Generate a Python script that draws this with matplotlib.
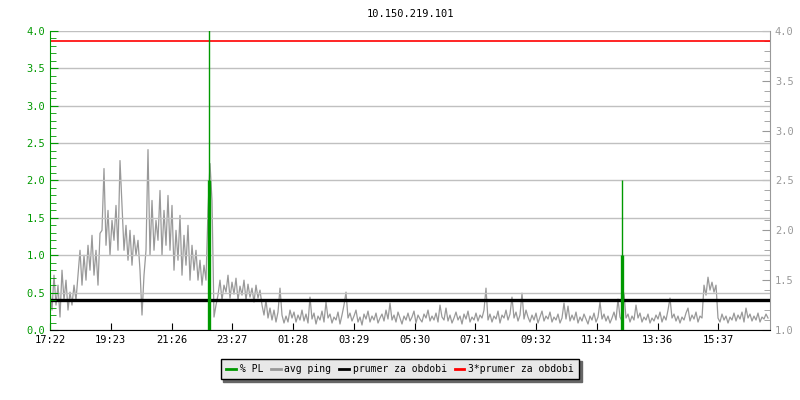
import numpy as np
import matplotlib.pyplot as plt
from matplotlib.ticker import MultipleLocator

title = "10.150.219.101"
tick_labels = ["17:22", "19:23", "21:26", "23:27", "01:28", "03:29",
               "05:30", "07:31", "09:32", "11:34", "13:36", "15:37"]
tick_step = 121.5      # minutes between labelled ticks
span = 1440            # minutes shown
step = 4               # minutes between ping samples

# avg ping (right axis)
ping = [1.4, 1.2, 1.55, 1.25, 1.45, 1.13, 1.6, 1.3, 1.5, 1.2, 1.38, 1.25, 1.45, 1.3,
        1.55, 1.8, 1.45, 1.75, 1.5, 1.85, 1.6, 1.95, 1.55, 1.8, 1.45, 1.97,
        2.0, 2.62, 1.85, 2.2, 1.75, 2.1, 1.9, 2.25, 1.8, 2.7,
        2.25, 1.8, 2.05, 1.7, 2.0, 1.65, 1.95, 1.75, 1.9, 1.6, 1.15, 1.55, 1.8,
        2.81, 1.75, 2.3, 1.8, 2.1, 1.9, 2.4, 1.75, 2.2, 1.85, 2.35, 1.8,
        2.25, 1.6, 2.0, 1.7, 2.15, 1.55, 1.95, 1.65, 2.05, 1.5, 1.85, 1.6,
        1.8, 1.5, 1.7, 1.45, 1.65, 1.5,
        2.2, 2.67, 2.3, 1.13, 1.25,
        1.35, 1.5, 1.3, 1.45, 1.38, 1.55, 1.32, 1.48, 1.36, 1.52, 1.3, 1.44,
        1.35, 1.5, 1.3, 1.46, 1.33, 1.42, 1.28, 1.45, 1.32, 1.4,
        1.25, 1.15, 1.3, 1.12, 1.22, 1.1, 1.2, 1.08, 1.18, 1.42, 1.15, 1.07,
        1.14, 1.08, 1.2,
        1.12, 1.18, 1.08, 1.15, 1.1, 1.2, 1.09, 1.16, 1.07, 1.33,
        1.11, 1.17, 1.06, 1.14, 1.1, 1.19, 1.08, 1.28, 1.12, 1.16,
        1.07, 1.13, 1.1, 1.18, 1.06, 1.15, 1.25, 1.38, 1.12, 1.17,
        1.09, 1.14, 1.2, 1.08, 1.13, 1.05, 1.16, 1.11, 1.19, 1.08,
        1.14, 1.1, 1.17, 1.07, 1.12, 1.16, 1.09, 1.2, 1.11, 1.27,
        1.1, 1.15, 1.08, 1.18, 1.12, 1.06, 1.14, 1.1, 1.17, 1.09,
        1.13, 1.19, 1.07, 1.15, 1.11, 1.08, 1.16, 1.12, 1.2, 1.09,
        1.14, 1.1, 1.17, 1.08, 1.25, 1.13, 1.1, 1.22, 1.09, 1.15,
        1.07, 1.12, 1.18, 1.1, 1.14, 1.06, 1.16, 1.11, 1.19, 1.08,
        1.13, 1.1, 1.17, 1.09, 1.15, 1.12, 1.2, 1.42, 1.1, 1.16,
        1.08, 1.14, 1.11, 1.19, 1.07, 1.15, 1.12, 1.2, 1.1, 1.16,
        1.33, 1.12, 1.18, 1.09, 1.15, 1.37, 1.11, 1.2, 1.13, 1.08,
        1.15, 1.1, 1.17, 1.07, 1.13, 1.19, 1.09, 1.14, 1.11, 1.18,
        1.08, 1.13, 1.1, 1.16, 1.07, 1.12, 1.27, 1.11, 1.24, 1.09,
        1.15, 1.1, 1.18, 1.07, 1.13, 1.09, 1.16, 1.11, 1.06, 1.14,
        1.1, 1.17, 1.08, 1.13, 1.28, 1.11, 1.16, 1.09, 1.14, 1.07,
        1.12, 1.18, 1.1, 1.31, 1.13, 1.09, 1.37, 1.12, 1.16, 1.08,
        1.14, 1.1, 1.25, 1.12, 1.17, 1.08, 1.13, 1.1, 1.16, 1.07,
        1.12, 1.09, 1.15, 1.11, 1.18, 1.08, 1.14, 1.1, 1.2, 1.32,
        1.12, 1.16, 1.09, 1.14, 1.07, 1.13, 1.1, 1.17, 1.22, 1.09,
        1.15, 1.11, 1.18, 1.08, 1.14, 1.12, 1.45, 1.35, 1.53, 1.4,
        1.48, 1.38, 1.45, 1.12, 1.08, 1.16, 1.1, 1.14, 1.07, 1.13,
        1.1, 1.17, 1.09, 1.15, 1.11, 1.18, 1.08, 1.22, 1.12, 1.16,
        1.09, 1.14, 1.1, 1.17, 1.08, 1.13, 1.11, 1.16, 1.12]

# packet loss events (left axis): minute, mean value, peak value
pl_t = [318, 1144]
pl_val = [2.0, 1.0]
pl_peak = [4.5, 2.0]

prumer = 1.3
labels = ["% PL", "avg ping", "prumer za obdobi", "3*prumer za obdobi"]

GREEN = "#009900"
GRAY = "#999999"
mono = "DejaVu Sans Mono"

t = np.arange(len(ping)) * step

fig = plt.figure(figsize=(8, 4), dpi=100)
ax = fig.add_axes([0.0625, 0.175, 0.9, 0.7475])
ax2 = ax.twinx()

ax.set_xlim(0, span)
ax.set_ylim(0, 4)
ax2.set_ylim(1, 4)

ax.yaxis.set_major_locator(MultipleLocator(0.5))
ax.yaxis.set_minor_locator(MultipleLocator(0.1))
ax2.yaxis.set_major_locator(MultipleLocator(0.5))
ax2.yaxis.set_minor_locator(MultipleLocator(0.1))
ax.set_xticks(np.arange(len(tick_labels)) * tick_step)
ax.set_xticklabels(tick_labels)
ax.yaxis.set_major_formatter(plt.FormatStrFormatter("%.1f"))
ax2.yaxis.set_major_formatter(plt.FormatStrFormatter("%.1f"))

ax.grid(axis="y", color="#c0c0c0", lw=1)
ax.set_axisbelow(True)

# ping + averages on right axis
ax2.plot(t, ping, color=GRAY, lw=0.9, zorder=2)
ax2.axhline(prumer, color="black", lw=2.4, zorder=3)
ax2.axhline(3 * prumer, color="red", lw=1.2, zorder=3)

# packet loss
ax2.set_zorder(ax.get_zorder() - 1)
ax.patch.set_visible(False)
ax.vlines(pl_t, 0, pl_val, color=GREEN, lw=2.4, zorder=4)
ax.vlines(pl_t, 0, pl_peak, color=GREEN, lw=1.0, zorder=4)

for a in (ax, ax2):
    a.spines["top"].set_visible(False)
ax.spines["left"].set_color(GREEN)
ax.spines["right"].set_visible(False)
ax2.spines["left"].set_visible(False)
ax2.spines["right"].set_color(GRAY)
ax2.spines["bottom"].set_visible(False)

ax.tick_params(axis="y", which="both", direction="in", colors=GREEN,
               labelsize=7.5)
ax.tick_params(axis="y", which="major", length=6)
ax.tick_params(axis="y", which="minor", length=4)
ax.tick_params(axis="x", direction="in", length=5, labelsize=7.5)
ax2.tick_params(axis="y", which="both", direction="in", colors=GRAY,
                labelsize=7.5)
ax2.tick_params(axis="y", which="major", length=6)
ax2.tick_params(axis="y", which="minor", length=4)
for lab in ax.get_xticklabels() + ax.get_yticklabels() + ax2.get_yticklabels():
    lab.set_family(mono)

fig.text(0.5125, 0.965, title, ha="center", va="center", family=mono,
         fontsize=7.5)

handles = [plt.Line2D([], [], color=GREEN, lw=2),
           plt.Line2D([], [], color=GRAY, lw=2),
           plt.Line2D([], [], color="black", lw=2),
           plt.Line2D([], [], color="red", lw=2)]
leg = fig.legend(handles, labels, loc="center", bbox_to_anchor=(0.5, 0.0775),
                 ncol=4, handlelength=1.0, handletextpad=0.4,
                 columnspacing=0.8, fancybox=False,
                 shadow={"color": "#666666", "alpha": 1.0},
                 prop={"family": mono, "size": 7.0}, borderpad=0.55)
leg.get_frame().set_facecolor("#e8e8e8")
leg.get_frame().set_edgecolor("black")
leg.get_frame().set_alpha(1.0)

fig.savefig("out.png", dpi=100)
